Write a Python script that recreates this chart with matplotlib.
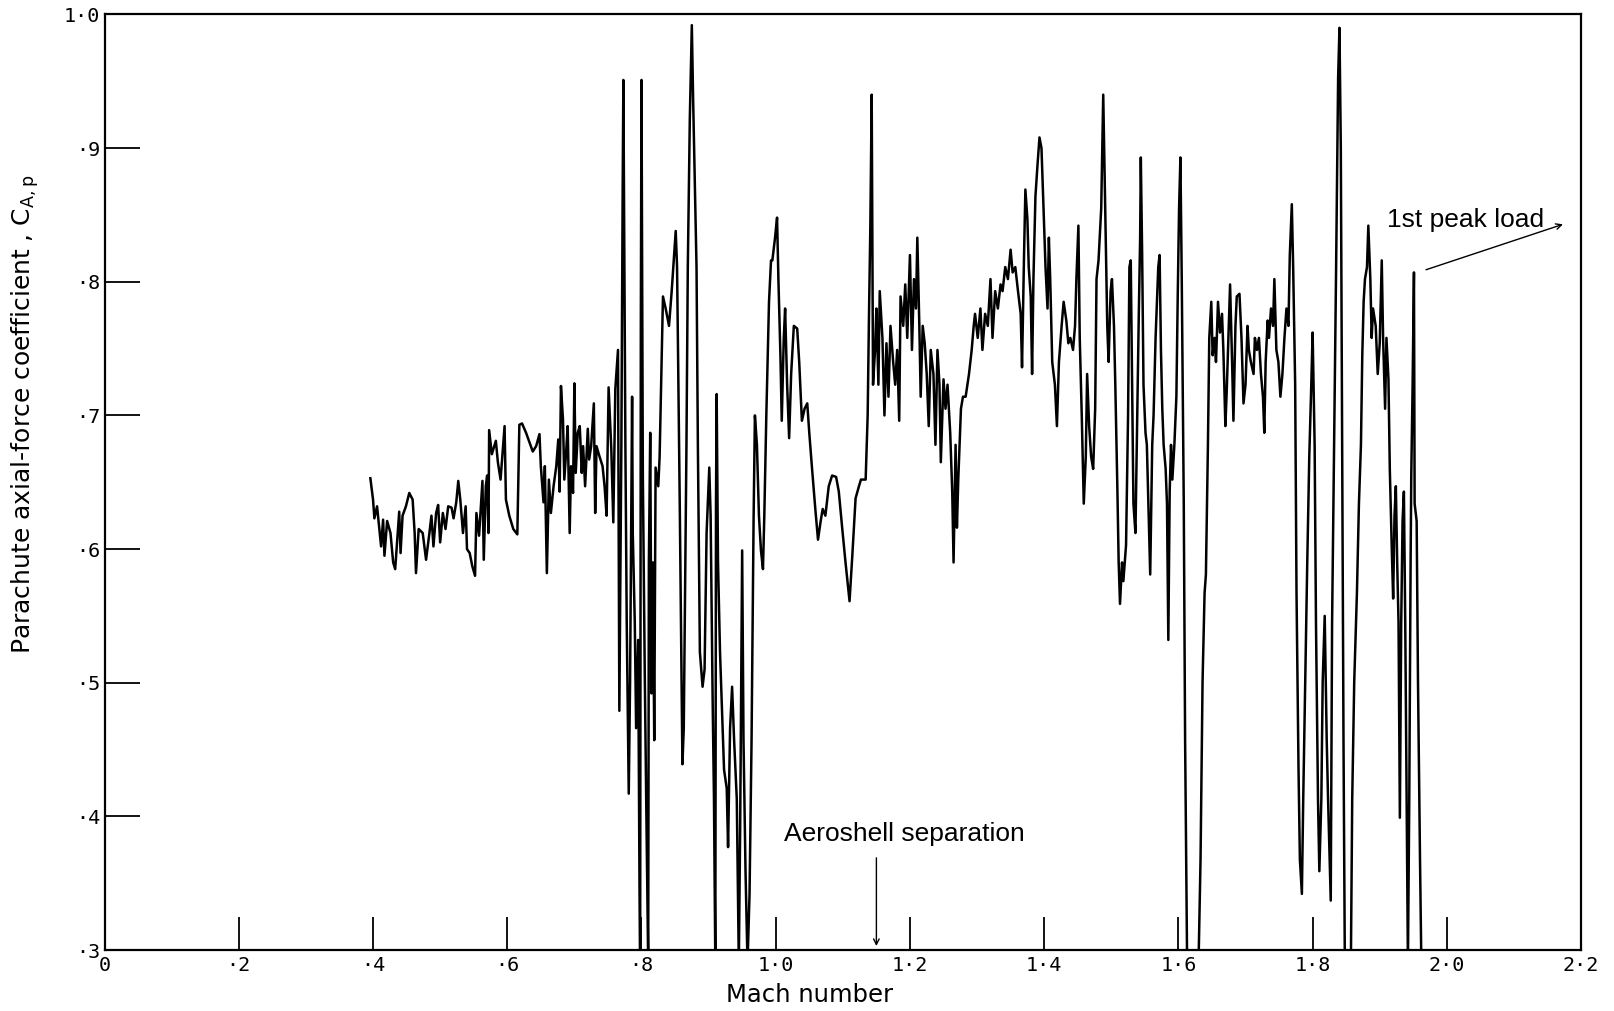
import matplotlib
matplotlib.use('Agg')
import matplotlib.pyplot as plt
import numpy as np

# Mach number vs parachute axial-force coefficient
seg_subsonic = np.array([
    [0.396, 0.653], [0.400, 0.637], [0.402, 0.623], [0.406, 0.632], [0.409, 0.617],
    [0.412, 0.602], [0.415, 0.622], [0.417, 0.595], [0.421, 0.621], [0.426, 0.612],
    [0.430, 0.590], [0.433, 0.585], [0.436, 0.607], [0.439, 0.628], [0.441, 0.597],
    [0.444, 0.625], [0.449, 0.632], [0.454, 0.642], [0.459, 0.637], [0.462, 0.612],
    [0.464, 0.582], [0.468, 0.615], [0.474, 0.612], [0.479, 0.592], [0.484, 0.612],
    [0.487, 0.625], [0.490, 0.602], [0.494, 0.627], [0.497, 0.633], [0.500, 0.605],
    [0.504, 0.627], [0.508, 0.615], [0.512, 0.632], [0.517, 0.631], [0.520, 0.623],
    [0.524, 0.635], [0.527, 0.651], [0.530, 0.637], [0.534, 0.612], [0.538, 0.632],
    [0.540, 0.600], [0.544, 0.597], [0.548, 0.587], [0.552, 0.580], [0.554, 0.627],
    [0.558, 0.610], [0.563, 0.651], [0.565, 0.592], [0.568, 0.647], [0.570, 0.655],
    [0.572, 0.612], [0.573, 0.689], [0.577, 0.671], [0.583, 0.681], [0.586, 0.665],
    [0.590, 0.652], [0.593, 0.672], [0.596, 0.692], [0.598, 0.637], [0.603, 0.625],
    [0.609, 0.615], [0.615, 0.611], [0.616, 0.637], [0.618, 0.693], [0.622, 0.694],
    [0.628, 0.687], [0.638, 0.673], [0.643, 0.677], [0.648, 0.686], [0.650, 0.662],
    [0.654, 0.635], [0.656, 0.662], [0.659, 0.582], [0.662, 0.652], [0.665, 0.627],
    [0.669, 0.647], [0.673, 0.662], [0.676, 0.682], [0.678, 0.643], [0.680, 0.722],
    [0.683, 0.697], [0.685, 0.652], [0.688, 0.675], [0.690, 0.692], [0.693, 0.612],
    [0.695, 0.662], [0.698, 0.642], [0.700, 0.724], [0.702, 0.657], [0.705, 0.687],
    [0.708, 0.692], [0.711, 0.657], [0.713, 0.677], [0.716, 0.647], [0.720, 0.690],
    [0.722, 0.667], [0.725, 0.677], [0.729, 0.709], [0.731, 0.627], [0.733, 0.677],
    [0.737, 0.670], [0.742, 0.662], [0.745, 0.647], [0.748, 0.625], [0.751, 0.721],
    [0.755, 0.675], [0.758, 0.620], [0.761, 0.720],
])

seg_transonic = np.array([
    [0.765, 0.749], [0.767, 0.479], [0.770, 0.678], [0.772, 0.873], [0.773, 0.951],
    [0.776, 0.678], [0.778, 0.545], [0.781, 0.417], [0.783, 0.501], [0.786, 0.714],
    [0.787, 0.612], [0.790, 0.545], [0.792, 0.466], [0.795, 0.532], [0.797, 0.351],
    [0.798, 0.290], [0.799, 0.767], [0.800, 0.951], [0.802, 0.656], [0.805, 0.501],
    [0.807, 0.413], [0.810, 0.290], [0.811, 0.590], [0.813, 0.687], [0.815, 0.492],
    [0.817, 0.590], [0.819, 0.457], [0.821, 0.661], [0.825, 0.647], [0.827, 0.669],
    [0.830, 0.740], [0.832, 0.789], [0.836, 0.780], [0.841, 0.767], [0.845, 0.793],
    [0.848, 0.816], [0.851, 0.838], [0.853, 0.811], [0.857, 0.634], [0.861, 0.439],
    [0.863, 0.466], [0.867, 0.678], [0.869, 0.811], [0.872, 0.922], [0.875, 0.992],
    [0.877, 0.935], [0.882, 0.811], [0.884, 0.678], [0.887, 0.523], [0.891, 0.497],
    [0.894, 0.510], [0.897, 0.612], [0.901, 0.661], [0.903, 0.625], [0.906, 0.488],
    [0.908, 0.413], [0.910, 0.290], [0.911, 0.634], [0.912, 0.716], [0.914, 0.590],
    [0.917, 0.523], [0.920, 0.479], [0.923, 0.435], [0.927, 0.421], [0.929, 0.377],
    [0.932, 0.466], [0.935, 0.497], [0.938, 0.457], [0.942, 0.413], [0.945, 0.290],
    [0.947, 0.390], [0.950, 0.599], [0.952, 0.457], [0.955, 0.359], [0.958, 0.290],
    [0.961, 0.342], [0.964, 0.457], [0.967, 0.621], [0.969, 0.700], [0.972, 0.678],
    [0.975, 0.625], [0.978, 0.599], [0.981, 0.585], [0.983, 0.625], [0.986, 0.700],
    [0.990, 0.785], [0.993, 0.816], [0.995, 0.816], [0.999, 0.833], [1.002, 0.848],
    [1.004, 0.802], [1.007, 0.745], [1.009, 0.696], [1.012, 0.758], [1.014, 0.780],
    [1.017, 0.723], [1.020, 0.683], [1.023, 0.731], [1.027, 0.767], [1.032, 0.765],
    [1.035, 0.740], [1.039, 0.696], [1.043, 0.705], [1.047, 0.709], [1.050, 0.687],
    [1.054, 0.661], [1.059, 0.630], [1.063, 0.607], [1.067, 0.621], [1.070, 0.630],
    [1.074, 0.625], [1.079, 0.647], [1.084, 0.655], [1.090, 0.654], [1.094, 0.643],
    [1.099, 0.616], [1.104, 0.590], [1.110, 0.561], [1.114, 0.594], [1.119, 0.638],
    [1.124, 0.647],
])

seg_supersonic = np.array([
    [1.127, 0.652], [1.134, 0.652], [1.137, 0.700], [1.139, 0.776], [1.141, 0.842],
    [1.143, 0.940], [1.144, 0.833], [1.145, 0.723], [1.148, 0.749], [1.150, 0.780],
    [1.153, 0.723], [1.155, 0.793], [1.159, 0.758], [1.162, 0.700], [1.165, 0.754],
    [1.168, 0.714], [1.171, 0.767], [1.175, 0.740], [1.178, 0.723], [1.181, 0.749],
    [1.184, 0.696], [1.186, 0.789], [1.190, 0.767], [1.193, 0.798], [1.196, 0.758],
    [1.200, 0.820], [1.203, 0.749], [1.206, 0.802], [1.209, 0.780], [1.211, 0.833],
    [1.214, 0.767], [1.216, 0.714], [1.219, 0.767], [1.222, 0.754], [1.225, 0.731],
    [1.228, 0.692], [1.231, 0.749], [1.235, 0.731], [1.238, 0.678], [1.241, 0.749],
    [1.244, 0.723], [1.246, 0.665], [1.250, 0.727], [1.253, 0.705], [1.256, 0.723],
    [1.260, 0.687], [1.263, 0.643], [1.265, 0.590], [1.268, 0.678], [1.270, 0.616],
    [1.272, 0.652], [1.276, 0.705], [1.279, 0.714], [1.283, 0.714], [1.288, 0.731],
    [1.292, 0.749], [1.295, 0.767], [1.297, 0.776], [1.301, 0.758], [1.305, 0.780],
    [1.308, 0.749], [1.312, 0.776], [1.316, 0.767], [1.320, 0.802], [1.323, 0.758],
    [1.327, 0.793], [1.331, 0.780], [1.335, 0.798], [1.338, 0.793], [1.342, 0.811],
    [1.346, 0.802], [1.350, 0.824], [1.353, 0.807], [1.357, 0.811], [1.361, 0.793],
    [1.365, 0.776], [1.367, 0.736], [1.370, 0.820], [1.372, 0.869], [1.375, 0.847],
    [1.377, 0.811], [1.380, 0.789], [1.382, 0.731], [1.384, 0.802], [1.387, 0.864],
    [1.390, 0.887], [1.393, 0.908], [1.396, 0.900], [1.399, 0.855], [1.402, 0.811],
    [1.405, 0.780], [1.407, 0.833], [1.409, 0.802], [1.412, 0.740], [1.416, 0.723],
    [1.419, 0.692], [1.422, 0.740], [1.426, 0.767], [1.429, 0.785], [1.433, 0.771],
    [1.436, 0.754], [1.439, 0.758], [1.443, 0.749], [1.446, 0.767], [1.448, 0.802],
    [1.451, 0.842], [1.453, 0.758], [1.456, 0.700], [1.459, 0.634], [1.462, 0.669],
    [1.464, 0.731], [1.467, 0.692], [1.470, 0.669], [1.473, 0.660], [1.476, 0.705],
    [1.478, 0.802], [1.481, 0.816],
])

seg_high = np.array([
    [1.485, 0.855], [1.488, 0.940], [1.491, 0.855], [1.494, 0.767], [1.496, 0.740],
    [1.499, 0.793], [1.501, 0.802], [1.504, 0.767], [1.506, 0.723], [1.509, 0.647],
    [1.511, 0.590], [1.513, 0.559], [1.516, 0.590], [1.518, 0.576], [1.522, 0.603],
    [1.525, 0.700], [1.527, 0.811], [1.529, 0.816], [1.531, 0.723], [1.533, 0.634],
    [1.536, 0.612], [1.538, 0.678], [1.541, 0.776], [1.543, 0.833], [1.544, 0.893],
    [1.546, 0.820], [1.548, 0.723], [1.551, 0.687], [1.553, 0.678], [1.556, 0.621],
    [1.558, 0.581], [1.561, 0.678], [1.563, 0.700], [1.566, 0.758], [1.570, 0.811],
    [1.572, 0.820], [1.574, 0.749], [1.576, 0.705], [1.578, 0.678], [1.581, 0.660],
    [1.583, 0.634], [1.585, 0.532], [1.587, 0.643], [1.589, 0.678], [1.591, 0.652],
    [1.594, 0.678], [1.597, 0.714], [1.599, 0.789], [1.601, 0.855], [1.603, 0.893],
    [1.605, 0.802], [1.608, 0.634], [1.610, 0.457], [1.613, 0.290], [1.630, 0.290],
    [1.633, 0.368], [1.636, 0.501], [1.639, 0.567], [1.641, 0.581], [1.644, 0.678],
    [1.646, 0.758], [1.649, 0.785], [1.651, 0.745], [1.654, 0.758], [1.656, 0.740],
    [1.659, 0.785], [1.662, 0.762], [1.665, 0.776], [1.667, 0.749], [1.670, 0.692],
    [1.672, 0.718], [1.675, 0.767], [1.677, 0.798], [1.680, 0.740], [1.682, 0.696],
    [1.685, 0.767], [1.687, 0.789], [1.691, 0.791], [1.694, 0.758], [1.697, 0.709],
    [1.700, 0.723], [1.703, 0.767], [1.705, 0.749], [1.708, 0.740], [1.712, 0.731],
    [1.714, 0.758], [1.717, 0.749], [1.720, 0.758], [1.723, 0.731], [1.726, 0.714],
    [1.728, 0.687], [1.730, 0.740], [1.733, 0.771], [1.735, 0.758], [1.738, 0.780],
    [1.741, 0.767], [1.743, 0.802], [1.746, 0.749], [1.749, 0.740], [1.752, 0.714],
    [1.755, 0.731], [1.758, 0.758], [1.761, 0.780], [1.764, 0.767], [1.766, 0.820],
    [1.769, 0.858], [1.771, 0.811], [1.774, 0.723], [1.776, 0.567], [1.779, 0.435],
    [1.781, 0.368], [1.784, 0.342], [1.786, 0.413], [1.789, 0.501], [1.792, 0.590],
    [1.795, 0.669], [1.798, 0.723], [1.800, 0.762], [1.803, 0.678], [1.805, 0.545],
    [1.808, 0.413], [1.810, 0.359], [1.813, 0.413], [1.815, 0.501], [1.818, 0.550],
    [1.821, 0.457], [1.823, 0.413], [1.827, 0.337], [1.829, 0.545], [1.832, 0.678],
    [1.835, 0.811], [1.837, 0.909], [1.838, 0.953], [1.840, 0.990], [1.842, 0.900],
    [1.844, 0.678], [1.846, 0.457], [1.848, 0.290],
])

seg_peak = np.array([
    [1.857, 0.290], [1.859, 0.413], [1.862, 0.501], [1.866, 0.567], [1.869, 0.634],
    [1.872, 0.678], [1.874, 0.745], [1.876, 0.785], [1.878, 0.802], [1.881, 0.811],
    [1.883, 0.842], [1.886, 0.802], [1.888, 0.758], [1.890, 0.780], [1.894, 0.767],
    [1.897, 0.731], [1.900, 0.754], [1.903, 0.816], [1.905, 0.758], [1.908, 0.705],
    [1.910, 0.758], [1.913, 0.727], [1.915, 0.660], [1.918, 0.599], [1.920, 0.563],
    [1.922, 0.625], [1.924, 0.647], [1.926, 0.590], [1.928, 0.545], [1.930, 0.399],
    [1.932, 0.545], [1.934, 0.621], [1.936, 0.643], [1.938, 0.545], [1.940, 0.413],
    [1.942, 0.290], [1.944, 0.413], [1.946, 0.590], [1.947, 0.656], [1.949, 0.723],
    [1.951, 0.807], [1.952, 0.634], [1.955, 0.621], [1.957, 0.501], [1.960, 0.368],
    [1.962, 0.290],
])

x_ticks = [0.0, 0.2, 0.4, 0.6, 0.8, 1.0, 1.2, 1.4, 1.6, 1.8, 2.0, 2.2]
x_labels = ['0', '·2', '·4', '·6', '·8', '1·0', '1·2', '1·4', '1·6', '1·8', '2·0', '2·2']
y_ticks = [0.3, 0.4, 0.5, 0.6, 0.7, 0.8, 0.9, 1.0]
y_labels = ['·3', '·4', '·5', '·6', '·7', '·8', '·9', '1·0']

trace = np.concatenate([seg_subsonic, seg_transonic, seg_supersonic, seg_high, seg_peak])

plt.rcParams['font.family'] = ['DejaVu Sans']
note_font = ['Liberation Sans Narrow', 'Liberation Sans', 'DejaVu Sans']

fig = plt.figure(figsize=(16.14, 10.11), dpi=100)
ax = fig.add_axes([0.0648, 0.0603, 0.9148, 0.9254])

ax.plot(trace[:, 0], trace[:, 1], color='black', lw=1.8)

ax.set_xlim(0, 2.2)
ax.set_ylim(0.3, 1.0)
ax.set_xticks(x_ticks)
ax.set_xticklabels(x_labels, family='DejaVu Sans Mono', fontsize=14.5)
ax.set_yticks(y_ticks)
ax.set_yticklabels(y_labels, family='DejaVu Sans Mono', fontsize=14.5)
ax.tick_params(axis='x', direction='in', length=24, width=1.3, pad=4, top=False)
ax.tick_params(axis='y', direction='in', length=25, width=1.3, pad=3, right=False)
for s in ax.spines.values():
    s.set_linewidth(1.6)

fig.text(810 / 1614, 0.016, 'Mach number', ha='center', va='center', fontsize=17.5)
fig.text(0.006, 0.590, r'Parachute axial-force coefficient , C$_{\mathregular{A,p}}$',
         rotation=90, ha='left', va='center', fontsize=18)

ax.text(1.012, 0.387, 'Aeroshell separation', family=note_font, fontsize=19,
        ha='left', va='center')
ax.annotate('', xy=(1.150, 0.303), xytext=(1.150, 0.369),
            arrowprops=dict(arrowstyle='->', lw=1.0, color='black',
                            mutation_scale=10, shrinkA=0, shrinkB=0))

ax.text(1.911, 0.846, '1st peak load', family=note_font, fontsize=19,
        ha='left', va='center')
ax.annotate('', xy=(2.173, 0.843), xytext=(1.969, 0.809),
            arrowprops=dict(arrowstyle='->', lw=1.0, color='black',
                            mutation_scale=10, shrinkA=0, shrinkB=0))

plt.savefig('out.png', dpi=100)
plt.close()
